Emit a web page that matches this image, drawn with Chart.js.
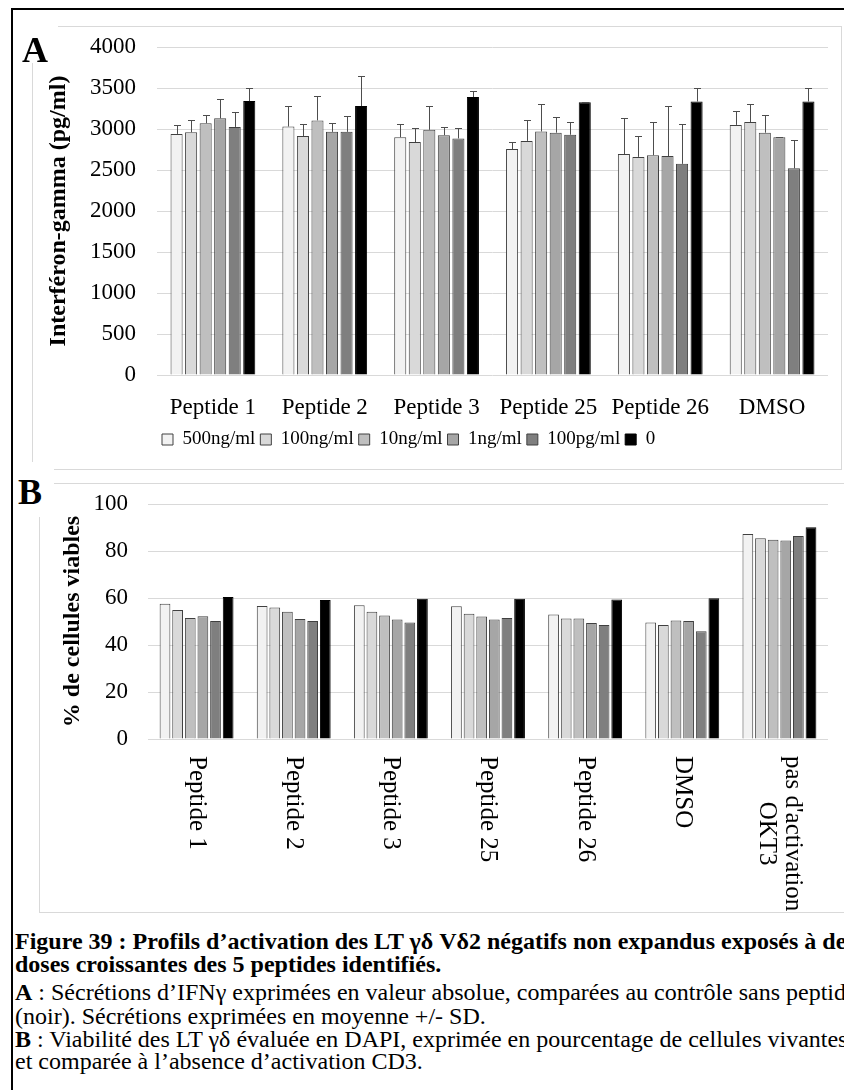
<!DOCTYPE html>
<html>
<head>
<meta charset="utf-8">
<script src="https://cdn.jsdelivr.net/npm/chart.js@4"></script>
<style>
  html, body { margin: 0; padding: 0; background: #fff; }
  body { width: 844px; height: 1090px; position: relative; overflow: hidden; font-family: "Liberation Serif", "Times New Roman", serif; }
  .outer { position: absolute; left: 11px; top: 8px; width: 900px; height: 1200px; border: 2px solid #000; box-sizing: border-box; }
  .frame { position: absolute; border: 1px solid #d9d9d9; box-sizing: border-box; }
  .panel { position: absolute; background: #fff; font-weight: bold; font-size: 36px; line-height: 36px; color: #000; }
  canvas { position: absolute; }
  .cap { position: absolute; left: 15px; white-space: nowrap; font-family: "Liberation Serif", serif; font-size: 24px; line-height: 23px; color: #000; }
</style>
</head>
<body>
<div class="outer"></div>

<div class="frame" style="left:32px; top:26px; width:810px; height:444px;"></div>
<div class="frame" style="left:39px; top:483px; width:820px; height:430px;"></div>

<canvas id="ifnChart" width="810" height="444" style="left:32px; top:26px;"></canvas>
<canvas id="viabChart" width="805" height="430" style="left:39px; top:483px;"></canvas>

<div class="panel" style="left:13px; top:10px; width:45px; height:53px;"><span style="position:absolute; left:9px; top:22px;">A</span></div>
<div class="panel" style="left:13px; top:462px; width:41px; height:55px;"><span style="position:absolute; left:5px; top:12px;">B</span></div>

<div class="cap" style="top:930px; font-weight:bold;">Figure 39 : Profils d’activation des LT γδ Vδ2 négatifs non expandus exposés à des</div>
<div class="cap" style="top:953px; font-weight:bold;">doses croissantes des 5 peptides identifiés.</div>
<div class="cap" style="top:981px;"><b>A</b> : Sécrétions d’IFNγ exprimées en valeur absolue, comparées au contrôle sans peptide</div>
<div class="cap" style="top:1005px;">(noir). Sécrétions exprimées en moyenne +/- SD.</div>
<div class="cap" style="top:1028px;"><b>B</b> : Viabilité des LT γδ évaluée en DAPI, exprimée en pourcentage de cellules vivantes</div>
<div class="cap" style="top:1050px;">et comparée à l’absence d’activation CD3.</div>

<script>
// ---- data ----
var doseLabels = ['500ng/ml', '100ng/ml', '10ng/ml', '1ng/ml', '100pg/ml', '0'];
var doseColors = ['#f2f2f2', '#d9d9d9', '#bfbfbf', '#a6a6a6', '#7f7f7f', '#000000'];

// panel A : IFN-gamma (pg/ml), mean and SD
var ifnCategories = ['Peptide 1', 'Peptide 2', 'Peptide 3', 'Peptide 25', 'Peptide 26', 'DMSO'];
var ifn500ng = [2940, 3030, 2900, 2755, 2695, 3050];
var ifn100ng = [2960, 2915, 2840, 2855, 2660, 3085];
var ifn10ng = [3070, 3105, 2990, 2970, 2680, 2955];
var ifn1ng = [3130, 2965, 2925, 2955, 2670, 2900];
var ifn100pg = [3025, 2965, 2885, 2930, 2575, 2520];
var ifn0 = [3340, 3280, 3390, 3325, 3335, 3335];

var sd500ng = [110, 255, 160, 90, 445, 165];
var sd100ng = [150, 150, 170, 255, 250, 225];
var sd10ng = [105, 295, 290, 340, 405, 210];
var sd1ng = [235, 110, 100, 195, 615, 0];
var sd100pg = [185, 195, 125, 155, 485, 345];
var sd0 = [160, 365, 70, 0, 165, 165];

var ifnTicks = { min: 0, max: 4000, step: 500 };

// panel B : % viable cells
var viabCategories = ['Peptide 1', 'Peptide 2', 'Peptide 3', 'Peptide 25', 'Peptide 26', 'DMSO', ["pas d'activation", 'OKT3']];
var viab500ng = [57.6, 56.6, 56.9, 56.5, 53.0, 49.6, 87.2];
var viab100ng = [54.9, 56.0, 54.2, 53.3, 51.3, 48.5, 85.4];
var viab10ng = [51.5, 54.2, 52.6, 52.1, 51.3, 50.4, 84.8];
var viab1ng = [52.2, 51.1, 50.9, 50.9, 49.4, 50.2, 84.5];
var viab100pg = [50.2, 50.2, 49.6, 51.5, 48.5, 45.8, 86.4];
var viab0 = [60.4, 59.1, 59.7, 59.7, 59.4, 59.9, 90.1];

var viabTicks = { min: 0, max: 100, step: 20 };

var ifnSeries = [ifn500ng, ifn100ng, ifn10ng, ifn1ng, ifn100pg, ifn0];
var ifnSd = [sd500ng, sd100ng, sd10ng, sd1ng, sd100pg, sd0];
var viabSeries = [viab500ng, viab100ng, viab10ng, viab1ng, viab100pg, viab0];

var SERIF = '"Liberation Serif", "Times New Roman", serif';
var GRID = '#d9d9d9';

Chart.defaults.font.family = SERIF;
Chart.defaults.color = '#000';

function plainTick(v) { return String(v); }

function makeDatasets(series, catPct, barPct) {
  return series.map(function(values, i) {
    return {
      label: doseLabels[i],
      data: values,
      backgroundColor: doseColors[i],
      borderColor: i === 5 ? '#000' : '#404040',
      borderWidth: 1,
      categoryPercentage: catPct,
      barPercentage: barPct
    };
  });
}

// upward SD whiskers, placed with the chart's own y scale
var errorBars = {
  id: 'errorBars',
  afterDatasetsDraw: function(chart) {
    var ctx = chart.ctx;
    var yScale = chart.scales.y;
    ctx.save();
    ctx.strokeStyle = '#4d4d4d';
    ctx.lineWidth = 1;
    chart.data.datasets.forEach(function(ds, i) {
      var meta = chart.getDatasetMeta(i);
      meta.data.forEach(function(bar, j) {
        var top = Math.round(yScale.getPixelForValue(ds.data[j] + ifnSd[i][j])) + 0.5;
        var x = Math.round(bar.x) + 0.5;
        ctx.beginPath();
        ctx.moveTo(x, bar.y);
        ctx.lineTo(x, top);
        ctx.moveTo(x - 3.5, top);
        ctx.lineTo(x + 3.5, top);
        ctx.stroke();
      });
    });
    ctx.restore();
  }
};

// x labels of panel B read top-to-bottom, so they are drawn here at the scale's tick positions
var verticalLabels = {
  id: 'verticalLabels',
  afterDraw: function(chart) {
    var ctx = chart.ctx;
    var xScale = chart.scales.x;
    var startY = chart.chartArea.bottom + 17;
    ctx.save();
    ctx.font = '25px ' + SERIF;
    ctx.fillStyle = '#000';
    ctx.textAlign = 'center';
    ctx.textBaseline = 'middle';
    viabCategories.forEach(function(lab, i) {
      var lines = Array.isArray(lab) ? lab : [lab];
      var w = Math.max.apply(null, lines.map(function(l) { return ctx.measureText(l).width; }));
      ctx.save();
      ctx.translate(xScale.getPixelForValue(i), startY + w / 2);
      ctx.rotate(Math.PI / 2);
      lines.forEach(function(l, k) {
        ctx.fillText(l, 0, (k - (lines.length - 1) / 2) * 26);
      });
      ctx.restore();
    });
    ctx.restore();
  }
};

// y tick gap is made with an invisible tick mark so the label padding does not push the plot top down
function yGrid(len) {
  return { color: GRID, drawTicks: true, tickLength: len, tickColor: 'rgba(0,0,0,0)' };
}

new Chart(document.getElementById('ifnChart').getContext('2d'), {
  type: 'bar',
  data: { labels: ifnCategories, datasets: makeDatasets(ifnSeries, 0.78, 0.83) },
  options: {
    responsive: false,
    animation: false,
    devicePixelRatio: 1,
    layout: { padding: { top: 21, right: 14, bottom: 11, left: 0 } },
    plugins: {
      tooltip: { enabled: false },
      legend: {
        position: 'bottom',
        fullSize: false,
        align: 'start',
        labels: { boxWidth: 11, boxHeight: 11, padding: 5, color: '#000', font: { size: 19, family: SERIF } }
      }
    },
    scales: {
      x: {
        grid: { display: false, drawTicks: false },
        border: { display: false },
        ticks: { padding: 19, color: '#000', font: { size: 23, family: SERIF } },
        afterFit: function(s) { s.height = 50; }
      },
      y: {
        min: ifnTicks.min,
        max: ifnTicks.max,
        ticks: { stepSize: ifnTicks.step, padding: 0, color: '#000', font: { size: 23, family: SERIF }, callback: plainTick },
        grid: yGrid(21),
        border: { display: false },
        title: { display: true, text: 'Interféron-gamma (pg/ml)', color: '#000', padding: { top: 12, bottom: 0 }, font: { size: 24, weight: 'bold', family: SERIF } },
        afterFit: function(s) { s.width = 125; }
      }
    }
  },
  plugins: [errorBars]
});

new Chart(document.getElementById('viabChart').getContext('2d'), {
  type: 'bar',
  data: { labels: viabCategories, datasets: makeDatasets(viabSeries, 0.78, 0.85) },
  options: {
    responsive: false,
    animation: false,
    devicePixelRatio: 1,
    layout: { padding: { top: 21, right: 16, bottom: 174, left: 0 } },
    plugins: { tooltip: { enabled: false }, legend: { display: false } },
    scales: {
      x: {
        grid: { display: false, drawTicks: false },
        border: { display: false },
        ticks: { display: false }
      },
      y: {
        min: viabTicks.min,
        max: viabTicks.max,
        ticks: { stepSize: viabTicks.step, padding: 0, color: '#000', font: { size: 23, family: SERIF }, callback: plainTick },
        grid: yGrid(20),
        border: { display: false },
        title: { display: true, text: '% de cellules viables', color: '#000', padding: { top: 19, bottom: 0 }, font: { size: 24, weight: 'bold', family: SERIF } },
        afterFit: function(s) { s.width = 109; }
      }
    }
  },
  plugins: [verticalLabels]
});
</script>
</body>
</html>
